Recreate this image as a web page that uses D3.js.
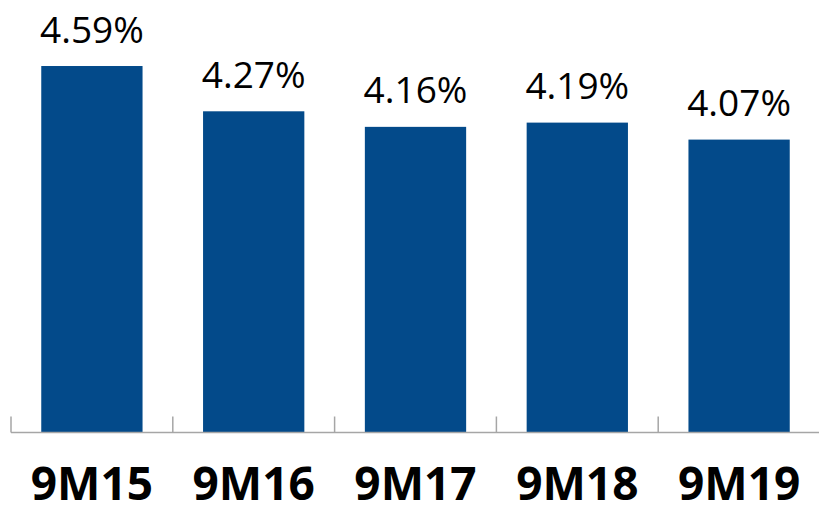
<!DOCTYPE html>
<html><head><meta charset="utf-8">
<script src="https://cdn.jsdelivr.net/npm/d3@7"></script>
<style>html,body{margin:0;padding:0;background:#fff;}svg{display:block;}</style>
</head><body>
<script>
const categories = ["9M15", "9M16", "9M17", "9M18", "9M19"];
const values = [4.59, 4.27, 4.16, 4.19, 4.07];
const valueLabels = ["4.59%", "4.27%", "4.16%", "4.19%", "4.07%"];

const W = 819, H = 505;
const svg = d3.select("body").append("svg").attr("width", W).attr("height", H);

const x = d3.scaleBand().domain(categories).range([11, 820]).paddingInner(0.374).paddingOuter(0.187);
const y = d3.scaleLinear().domain([2, 5]).range([432.5, 8]);

// bars
svg.selectAll("rect.bar").data(categories).join("rect")
  .attr("class", "bar")
  .attr("x", d => x(d))
  .attr("width", x.bandwidth())
  .attr("y", (d, i) => y(values[i]))
  .attr("height", (d, i) => y(2) - y(values[i]))
  .attr("fill", "#034A8A");

// value labels
svg.selectAll("text.val").data(categories).join("text")
  .attr("class", "val")
  .attr("x", d => x(d) + x.bandwidth() / 2)
  .attr("y", (d, i) => y(values[i]) - 23.5)
  .attr("text-anchor", "middle")
  .attr("font-family", "'Open Sans', sans-serif")
  .attr("font-size", 37)
  .attr("fill", "#000")
  .text((d, i) => valueLabels[i]);

// axis line and ticks at band boundaries
const step = x.step();
const x0 = 11;
svg.append("line")
  .attr("x1", x0).attr("x2", W)
  .attr("y1", y(2)).attr("y2", y(2))
  .attr("stroke", "#a6a6a6").attr("stroke-width", 1.5);
const bounds = d3.range(categories.length + 1).map(i => x0 + i * step);
svg.selectAll("line.tick").data(bounds).join("line")
  .attr("class", "tick")
  .attr("x1", d => d).attr("x2", d => d)
  .attr("y1", y(2)).attr("y2", y(2) - 16)
  .attr("stroke", "#a6a6a6").attr("stroke-width", 1.5);

// category labels
svg.selectAll("text.cat").data(categories).join("text")
  .attr("class", "cat")
  .attr("x", d => x(d) + x.bandwidth() / 2)
  .attr("y", 500)
  .attr("text-anchor", "middle")
  .attr("font-family", "'Open Sans', sans-serif")
  .attr("font-weight", "bold")
  .attr("font-size", 46)
  .attr("fill", "#000")
  .text(d => d);
</script>
</body></html>
